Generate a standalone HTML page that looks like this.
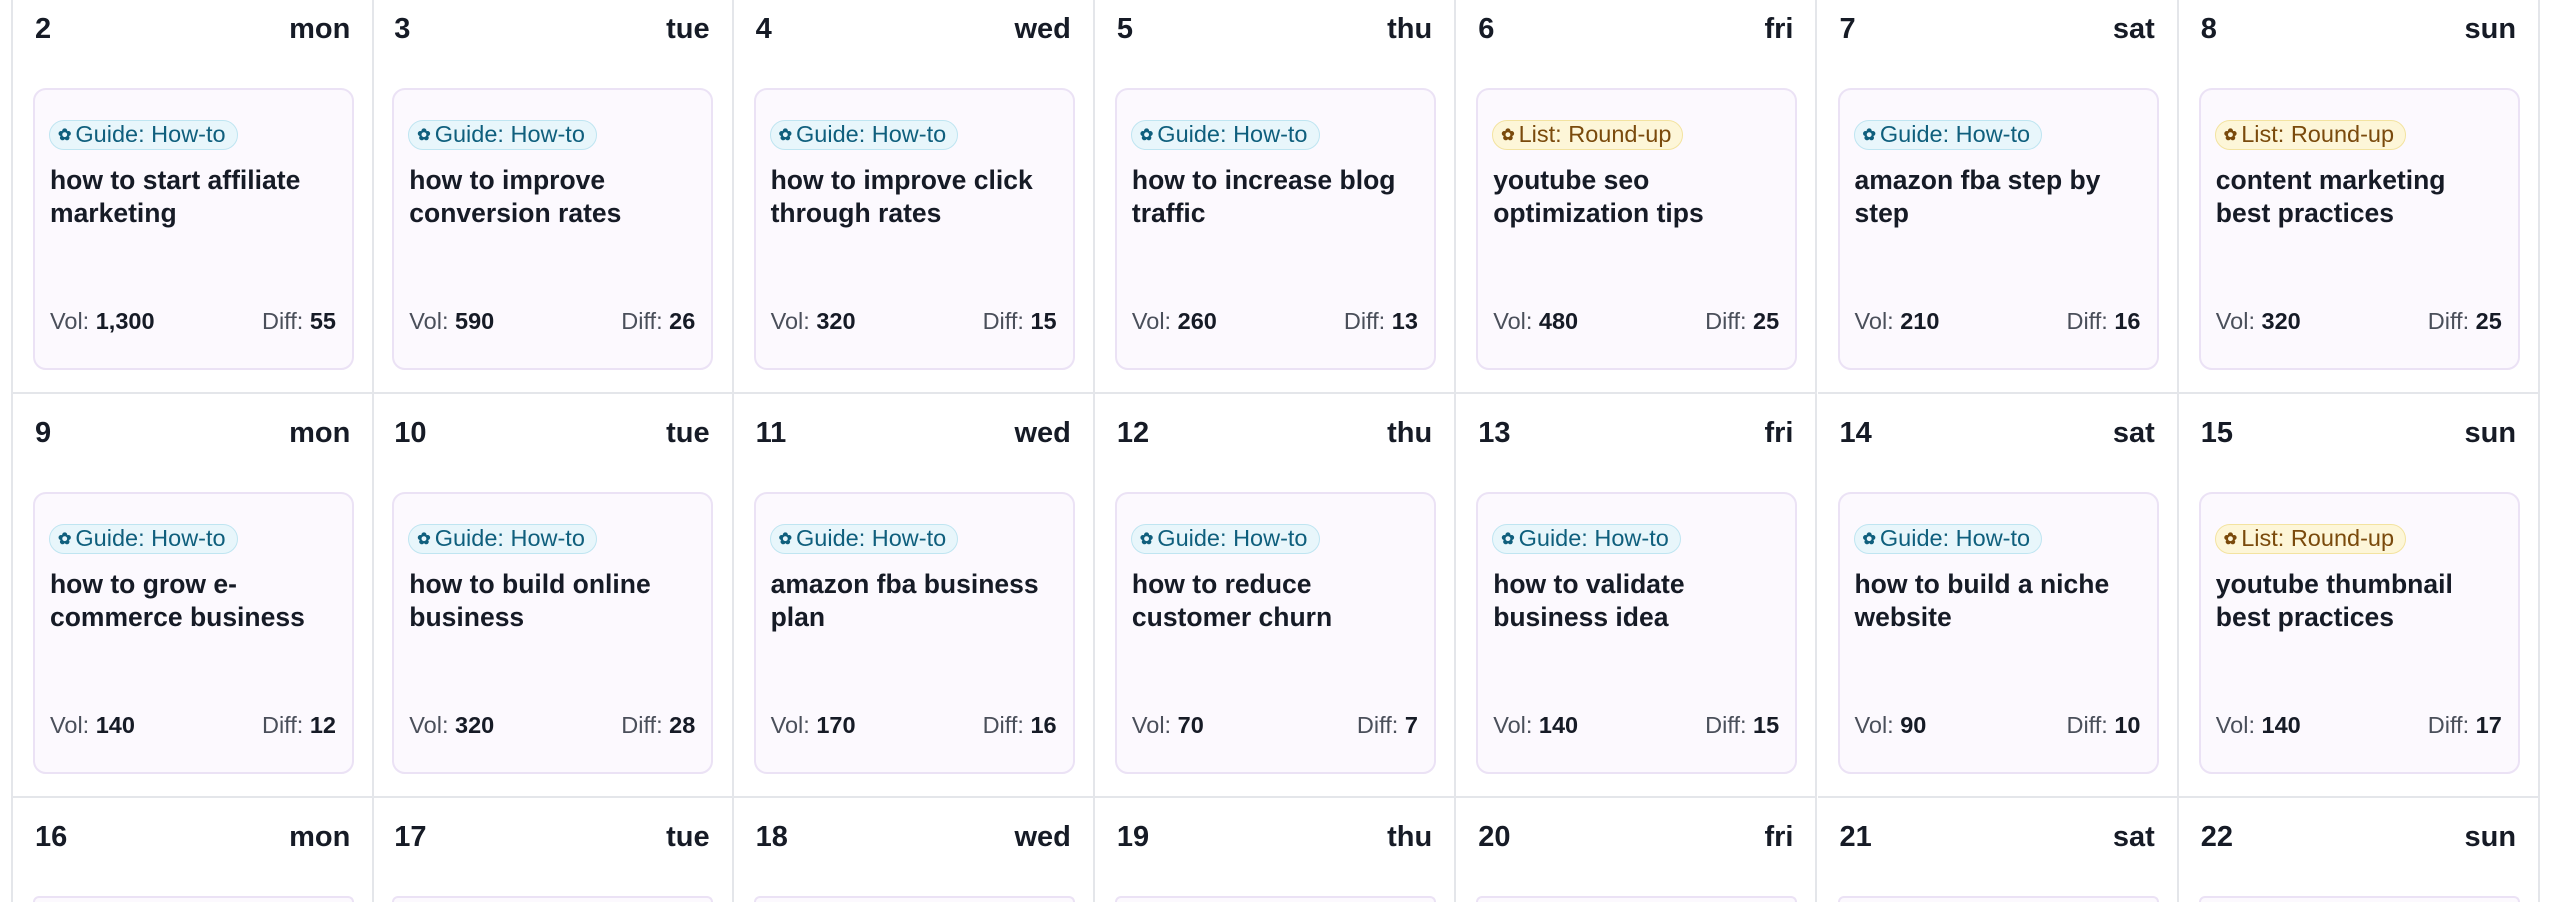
<!DOCTYPE html>
<html><head><meta charset="utf-8">
<style>
*{box-sizing:border-box;margin:0;padding:0}
html,body{width:2560px;height:902px;overflow:hidden}
body{background:#fff;font-family:"Liberation Sans",sans-serif;color:#161b26;position:relative}
#wrap{position:absolute;left:0;top:0;width:2560px;height:902px;overflow:hidden}
.cell{position:absolute;border-right:2px solid #e4e6ea;border-bottom:2px solid #e4e6ea;overflow:hidden}
.cell.last{border-bottom:none}
.cell.first{border-left:2px solid #e4e6ea}
.dnum{position:absolute;left:22px;font-size:29px;font-weight:bold}
.dname{position:absolute;right:22px;font-size:29px;font-weight:bold}
.card{position:absolute;left:20px;width:321px;height:282px;border:2px solid #ebe2f5;border-radius:13px;background:#fcf9fe}
.card.cut{border-bottom:none;border-radius:13px 13px 0 0}
.tag{position:absolute;left:14px;top:30px;height:30px;border-radius:15px;padding:0 11px 0 8px;font-size:23.5px;line-height:27px;white-space:nowrap;border:1.5px solid}
.tag.g{color:#0f5f7d;background:#e8f6fb;border-color:#bfe5f1}
.tag.l{color:#7a4a0c;background:#fdf6d8;border-color:#f3e3a0}
.tag .ic{font-size:16px;margin-right:4px;vertical-align:2px;font-weight:bold}
.title{position:absolute;left:15px;top:74px;width:275px;font-size:26.5px;font-weight:bold;line-height:33px;color:#161b26}
.stat{position:absolute;top:218px;font-size:23.5px;color:#4a4f5a}
.stat b{color:#161b26}
</style></head><body>
<div id="wrap"></div>
<script>
const dayNums=[2,3,4,5,6,7,8,9,10,11,12,13,14,15,16,17,18,19,20,21,22];
const dayNames=["mon","tue","wed","thu","fri","sat","sun"];
const tags=["g","g","g","g","l","g","l","g","g","g","g","g","g","l"];
const titles=["how to start affiliate marketing","how to improve conversion rates","how to improve click through rates","how to increase blog traffic","youtube seo optimization tips","amazon fba step by step","content marketing best practices","how to grow e-commerce business","how to build online business","amazon fba business plan","how to reduce customer churn","how to validate business idea","how to build a niche website","youtube thumbnail best practices"];
const vols=["1,300","590","320","260","480","210","320","140","320","170","70","140","90","140"];
const diffs=[55,26,15,13,25,16,25,12,28,16,7,15,10,17];
const X0=11,CW=361.3,Y0=-12,RH=404;
const wrap=document.getElementById('wrap');
for(let i=0;i<dayNums.length;i++){
  const c=i%7,r=Math.floor(i/7);
  const cell=document.createElement('div');
  
  
  cell.className='cell'+(c===0?' first':'')+(r===2?' last':'');
  const top=Y0+r*RH;
  const off=Math.min(0,top);
  const ch=r===2?(902-top):(RH+2+off);
  cell.style.left=(X0+c*CW)+'px';cell.style.top=Math.max(0,top)+'px';
  cell.style.width=(CW+(c===0?2:0))+'px';
  cell.style.height=ch+'px';
  const n=document.createElement('div');
  
  
  n.className='dnum';n.style.top=(25+off)+'px';n.textContent=dayNums[i];cell.appendChild(n);
  const d=document.createElement('div');
  
  
  d.className='dname';d.style.top=(25+off)+'px';d.textContent=dayNames[c];cell.appendChild(d);
  const card=document.createElement('div');
  
  
  const cardTop=100+off;
  card.className='card';card.style.top=cardTop+'px';
  if(cardTop+282>ch){card.className='card cut';card.style.height=Math.max(0,ch-cardTop)+'px';}
  if(i<titles.length){
    const t=document.createElement('div');
    
    
    t.className='tag '+tags[i];
    t.innerHTML='<span class="ic">✿</span>'+(tags[i]==='g'?'Guide: How-to':'List: Round-up');
    card.appendChild(t);
    const ti=document.createElement('div');
    
    
    ti.className='title';ti.textContent=titles[i];card.appendChild(ti);
    const v=document.createElement('div');
    
    
    v.className='stat';v.style.left='15px';v.innerHTML='Vol: <b>'+vols[i]+'</b>';card.appendChild(v);
    const df=document.createElement('div');
    
    
    df.className='stat';df.style.right='16px';df.innerHTML='Diff: <b>'+diffs[i]+'</b>';card.appendChild(df);
  }
  cell.appendChild(card);
  wrap.appendChild(cell);
}
</script>
</body></html>
